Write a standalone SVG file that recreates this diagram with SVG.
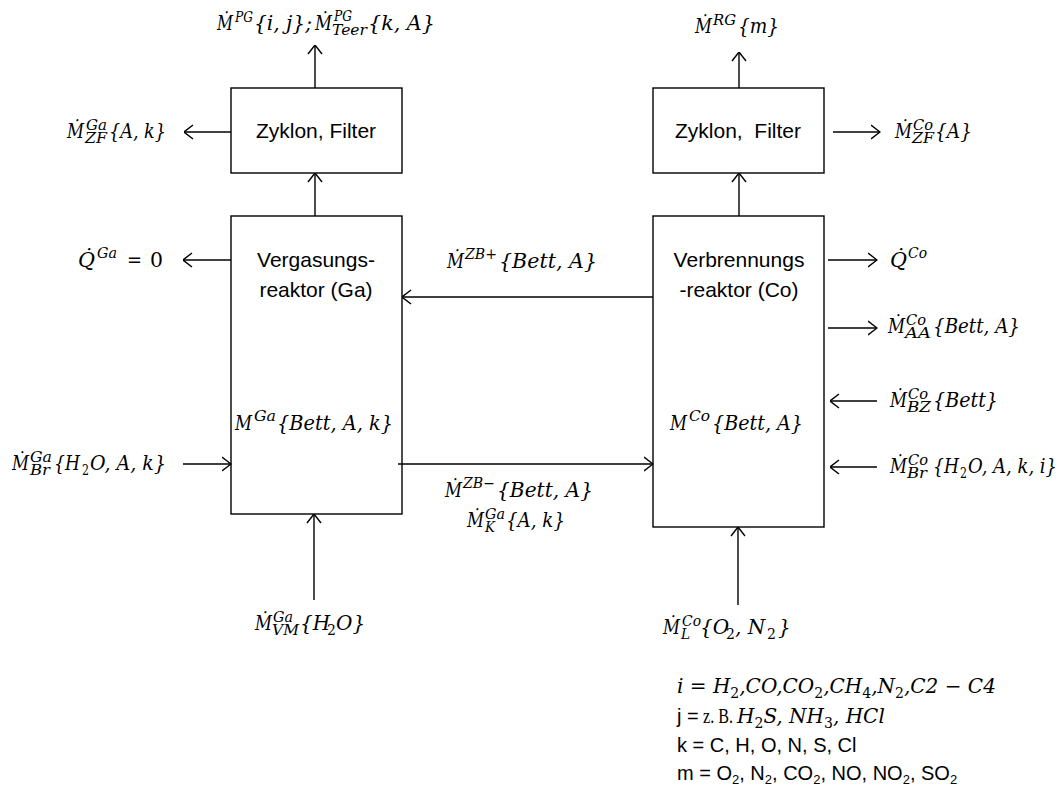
<svg xmlns="http://www.w3.org/2000/svg" width="1064" height="789" viewBox="0 0 1064 789">
<style>
.box{fill:#fff;stroke:#000;stroke-width:1.4}
.c{stroke:#000;stroke-width:1.4;fill:none;marker-end:url(#a)}
.t{font-family:"Liberation Sans",Arial,sans-serif;font-size:21px;fill:#000}
.tc{text-anchor:middle}
.m{font-family:"DejaVu Serif","Liberation Serif",serif;font-style:italic;font-size:20px;fill:#000}
.s{font-family:"DejaVu Serif","Liberation Serif",serif;font-style:italic;font-size:14px;fill:#000}
.n{font-style:normal}
.ls{font-family:"Liberation Sans",Arial,sans-serif;font-size:20px;fill:#000}
.lsub{font-size:13px}
.rs{font-family:"Liberation Serif",serif;font-size:22px;fill:#000}
</style>
<defs>
<marker id="a" viewBox="0 0 10 16" refX="9.5" refY="8" markerWidth="10" markerHeight="16" markerUnits="userSpaceOnUse" orient="auto">
<path d="M0.5,1 L9.5,8 L0.5,15" fill="none" stroke="#000" stroke-width="1.4"/>
</marker>
</defs>
<rect width="1064" height="789" fill="#fff"/>

<g id="cyclone-ga">
<rect class="box" x="231" y="88" width="171" height="85"/>
<text class="t tc" x="316" y="138">Zyklon, Filter</text>
</g>
<g id="cyclone-co">
<rect class="box" x="653" y="88" width="171" height="85"/>
<text class="t tc" x="738" y="138" xml:space="preserve">Zyklon,  Filter</text>
</g>
<g id="gasifier">
<rect class="box" x="231" y="216" width="171" height="298"/>
<text class="t tc" x="316" y="267">Vergasungs-</text>
<text class="t tc" x="316" y="297">reaktor (Ga)</text>
<text class="m" x="235" y="430" textLength="17" lengthAdjust="spacingAndGlyphs">M</text><text class="s" x="254" y="421" textLength="22" lengthAdjust="spacingAndGlyphs">Ga</text><text class="m" x="277" y="430" textLength="116" lengthAdjust="spacingAndGlyphs">{Bett, A, k}</text>
</g>
<g id="combustor">
<rect class="box" x="653" y="216" width="171" height="311"/>
<text class="t tc" x="739" y="267">Verbrennungs</text>
<text class="t tc" x="739" y="297">-reaktor (Co)</text>
<text class="m" x="670" y="430" textLength="17" lengthAdjust="spacingAndGlyphs">M</text><text class="s" x="689" y="421" textLength="21" lengthAdjust="spacingAndGlyphs">Co</text><text class="m" x="712" y="430" textLength="91" lengthAdjust="spacingAndGlyphs">{Bett, A}</text>
</g>

<g id="connectors">
<line class="c" x1="315" y1="88" x2="315" y2="45"/>
<line class="c" x1="315" y1="216" x2="315" y2="173"/>
<line class="c" x1="231" y1="132" x2="184" y2="132"/>
<line class="c" x1="231" y1="260" x2="183" y2="260"/>
<line class="c" x1="183" y1="464" x2="231" y2="464"/>
<line class="c" x1="314" y1="600" x2="314" y2="514"/>
<line class="c" x1="653" y1="297" x2="402" y2="297"/>
<line class="c" x1="398" y1="464" x2="653" y2="464"/>
<line class="c" x1="739" y1="88" x2="739" y2="52"/>
<line class="c" x1="739" y1="216" x2="739" y2="173"/>
<line class="c" x1="833" y1="132" x2="880" y2="132"/>
<line class="c" x1="828" y1="260" x2="877" y2="260"/>
<line class="c" x1="828" y1="328" x2="877" y2="328"/>
<line class="c" x1="877" y1="401" x2="830" y2="401"/>
<line class="c" x1="877" y1="467" x2="830" y2="467"/>
<line class="c" x1="738" y1="605" x2="738" y2="527"/>
</g>

<g id="labels">
<text class="m" x="217" y="30" textLength="16" lengthAdjust="spacingAndGlyphs">M&#x307;</text><text class="s" x="235" y="22" textLength="18" lengthAdjust="spacingAndGlyphs">PG</text><text class="m" x="254" y="30" textLength="58" lengthAdjust="spacingAndGlyphs">{i, j};</text>
<text class="m" x="315" y="30" textLength="17" lengthAdjust="spacingAndGlyphs">M&#x307;</text><text class="s" x="334" y="21" textLength="18" lengthAdjust="spacingAndGlyphs">PG</text><text class="s" x="332" y="35" textLength="35" lengthAdjust="spacingAndGlyphs">Teer</text><text class="m" x="368" y="30" textLength="67" lengthAdjust="spacingAndGlyphs">{k, A}</text>

<text class="m" x="67" y="138" textLength="17" lengthAdjust="spacingAndGlyphs">M&#x307;</text><text class="s" x="86" y="130" textLength="21" lengthAdjust="spacingAndGlyphs">Ga</text><text class="s" x="85" y="143" textLength="22" lengthAdjust="spacingAndGlyphs">ZF</text><text class="m" x="109" y="138" textLength="57" lengthAdjust="spacingAndGlyphs">{A, k}</text>

<text class="m" x="695" y="33" textLength="17" lengthAdjust="spacingAndGlyphs">M&#x307;</text><text class="s" x="713" y="25" textLength="23" lengthAdjust="spacingAndGlyphs">RG</text><text class="m" x="738" y="33" textLength="41" lengthAdjust="spacingAndGlyphs">{m}</text>

<text class="m" x="895" y="138" textLength="17" lengthAdjust="spacingAndGlyphs">M&#x307;</text><text class="s" x="913" y="130" textLength="20" lengthAdjust="spacingAndGlyphs">Co</text><text class="s" x="912" y="143" textLength="22" lengthAdjust="spacingAndGlyphs">ZF</text><text class="m" x="935" y="138" textLength="37" lengthAdjust="spacingAndGlyphs">{A}</text>

<text class="m" x="78" y="267" textLength="17" lengthAdjust="spacingAndGlyphs">Q&#x307;</text><text class="s" x="97" y="258" textLength="20" lengthAdjust="spacingAndGlyphs">Ga</text><text class="m n" x="127" y="267" textLength="15" lengthAdjust="spacingAndGlyphs">=</text><text class="m n" x="150" y="267" textLength="13" lengthAdjust="spacingAndGlyphs">0</text>

<text class="m" x="12" y="470" textLength="17" lengthAdjust="spacingAndGlyphs">M&#x307;</text><text class="s" x="30" y="462" textLength="22" lengthAdjust="spacingAndGlyphs">Ga</text><text class="s" x="30" y="475" textLength="20" lengthAdjust="spacingAndGlyphs">Br</text>
<text class="m" x="54" y="470" textLength="26" lengthAdjust="spacingAndGlyphs">{H</text><text class="s n" x="82" y="475" textLength="7" lengthAdjust="spacingAndGlyphs">2</text><text class="m" x="90" y="470" textLength="76" lengthAdjust="spacingAndGlyphs">O, A, k}</text>

<text class="m" x="447" y="268" textLength="17" lengthAdjust="spacingAndGlyphs">M&#x307;</text><text class="s" x="465" y="259" textLength="32" lengthAdjust="spacingAndGlyphs">ZB+</text><text class="m" x="499" y="268" textLength="98" lengthAdjust="spacingAndGlyphs">{Bett, A}</text>

<text class="m" x="445" y="497" textLength="17" lengthAdjust="spacingAndGlyphs">M&#x307;</text><text class="s" x="463" y="488" textLength="32" lengthAdjust="spacingAndGlyphs">ZB−</text><text class="m" x="497" y="497" textLength="96" lengthAdjust="spacingAndGlyphs">{Bett, A}</text>

<text class="m" x="467" y="527" textLength="17" lengthAdjust="spacingAndGlyphs">M&#x307;</text><text class="s" x="485" y="519" textLength="20" lengthAdjust="spacingAndGlyphs">Ga</text><text class="s" x="485" y="532" textLength="10" lengthAdjust="spacingAndGlyphs">K</text><text class="m" x="506" y="527" textLength="59" lengthAdjust="spacingAndGlyphs">{A, k}</text>

<text class="m" x="890" y="267" textLength="17" lengthAdjust="spacingAndGlyphs">Q&#x307;</text><text class="s" x="908" y="258" textLength="19" lengthAdjust="spacingAndGlyphs">Co</text>

<text class="m" x="888" y="333" textLength="17" lengthAdjust="spacingAndGlyphs">M&#x307;</text><text class="s" x="906" y="325" textLength="20" lengthAdjust="spacingAndGlyphs">Co</text><text class="s" x="905" y="338" textLength="26" lengthAdjust="spacingAndGlyphs">AA</text><text class="m" x="933" y="333" textLength="87" lengthAdjust="spacingAndGlyphs">{Bett, A}</text>

<text class="m" x="890" y="407" textLength="17" lengthAdjust="spacingAndGlyphs">M&#x307;</text><text class="s" x="908" y="399" textLength="20" lengthAdjust="spacingAndGlyphs">Co</text><text class="s" x="907" y="412" textLength="24" lengthAdjust="spacingAndGlyphs">BZ</text><text class="m" x="933" y="407" textLength="65" lengthAdjust="spacingAndGlyphs">{Bett}</text>

<text class="m" x="890" y="473" textLength="17" lengthAdjust="spacingAndGlyphs">M&#x307;</text><text class="s" x="908" y="465" textLength="20" lengthAdjust="spacingAndGlyphs">Co</text><text class="s" x="907" y="478" textLength="20" lengthAdjust="spacingAndGlyphs">Br</text>
<text class="m" x="933" y="473" textLength="26" lengthAdjust="spacingAndGlyphs">{H</text><text class="s n" x="960" y="478" textLength="7" lengthAdjust="spacingAndGlyphs">2</text><text class="m" x="968" y="473" textLength="89" lengthAdjust="spacingAndGlyphs">O, A, k, i}</text>

<text class="m" x="255" y="630" textLength="17" lengthAdjust="spacingAndGlyphs">M&#x307;</text><text class="s" x="273" y="622" textLength="20" lengthAdjust="spacingAndGlyphs">Ga</text><text class="s" x="272" y="635" textLength="27" lengthAdjust="spacingAndGlyphs">VM</text>
<text class="m" x="300" y="630">{H</text><text class="s n" x="327" y="635">2</text><text class="m" x="336" y="630">O}</text>

<text class="m" x="663" y="634" textLength="17" lengthAdjust="spacingAndGlyphs">M&#x307;</text><text class="s" x="682" y="626" textLength="19" lengthAdjust="spacingAndGlyphs">Co</text><text class="s" x="681" y="639" textLength="9" lengthAdjust="spacingAndGlyphs">L</text>
<text class="m" x="700" y="634">{O</text><text class="s n" x="726" y="639">2</text><text class="m" x="735" y="634">, N</text><text class="s n" x="767" y="639">2</text><text class="m" x="778" y="634">}</text>
</g>

<g id="legend">
<text class="m" x="677" y="693">i <tspan class="n">=</tspan> H<tspan class="s n" dy="5">2</tspan><tspan dy="-5">,CO,CO</tspan><tspan class="s n" dy="5">2</tspan><tspan dy="-5">,CH</tspan><tspan class="s n" dy="5">4</tspan><tspan dy="-5">,N</tspan><tspan class="s n" dy="5">2</tspan><tspan dy="-5">,C2 <tspan class="n">−</tspan> C4</tspan></text>

<text class="ls" x="677" y="723">j =</text><text class="rs" x="703" y="723" textLength="30" lengthAdjust="spacingAndGlyphs">z. B.</text>
<text class="m" x="737" y="723">H<tspan class="s n" dy="5">2</tspan><tspan dy="-5">S, NH</tspan><tspan class="s n" dy="5">3</tspan><tspan dy="-5">, HCl</tspan></text>

<text class="ls" x="677" y="752">k = C, H, O, N, S, Cl</text>

<text class="ls" x="677" y="780">m = O<tspan class="lsub" dy="4">2</tspan><tspan dy="-4">, N</tspan><tspan class="lsub" dy="4">2</tspan><tspan dy="-4">, CO</tspan><tspan class="lsub" dy="4">2</tspan><tspan dy="-4">, NO, NO</tspan><tspan class="lsub" dy="4">2</tspan><tspan dy="-4">, SO</tspan><tspan class="lsub" dy="4">2</tspan></text>
</g>
</svg>
